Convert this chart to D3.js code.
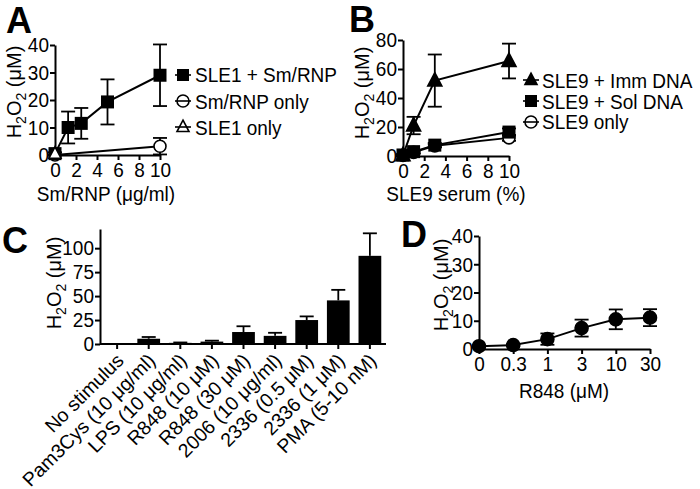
<!DOCTYPE html>
<html><head><meta charset="utf-8">
<script src="https://cdn.jsdelivr.net/npm/d3@7"></script>
<style>
body{margin:0;background:#fff}svg{display:block}
svg text.st{transform-box:fill-box;transform-origin:center;transform:scaleY(1.1)}
</style>
</head><body>
<svg id="chart" width="700" height="489"></svg>
<script>
// ---------- DATA ----------
// Panel A
const aX = [0, 1.25, 2.5, 5, 10];
const aSle1SmRnp = [0.5, 10, 11.5, 19.3, 29];
const aSle1SmRnpErr = [0.5, 5.8, 5.6, 8.2, 11.2];
const aSmRnpX = [0, 10];
const aSmRnpOnly = [0, 3.2];
const aSmRnpOnlyErr = [0, 3];
const aSle1X = [0];
const aSle1Only = [0.5];
const aSle1OnlyErr = [0];
const aXTicks = [0, 2, 4, 6, 8, 10];
const aYTicks = [0, 10, 20, 30, 40];
const aLegend = ["SLE1 + Sm/RNP", "Sm/RNP only", "SLE1 only"];

// Panel B
const bX = [0, 1, 3, 10];
const bImm = [0.5, 21, 52, 65.5];
const bImmErr = [0.5, 6, 18, 12];
const bSol = [0.7, 3, 7.5, 16.5];
const bSolErr = [0.5, 1, 1.5, 2.5];
const bOnly = [0.3, 2.5, 7, 12.5];
const bOnlyErr = [0.3, 1, 1, 2];
const bXTicks = [0, 2, 4, 6, 8, 10];
const bYTicks = [0, 20, 40, 60, 80];
const bLegend = ["SLE9 + Imm DNA", "SLE9 + Sol DNA", "SLE9 only"];

// Panel C
const cLabels = ["No stimulus", "Pam3Cys (10 μg/ml)", "LPS (10 μg/ml)", "R848 (10 μM)",
  "R848 (30 μM)", "2006 (10 μg/ml)", "2336 (0.5 μM)", "2336 (1 μM)", "PMA (5-10 nM)"];
const cValues = [0.5, 5.5, 1.2, 2.5, 12.5, 8.5, 25, 45.5, 92];
const cErr = [0, 1.8, 0.4, 1, 6, 3.2, 3.8, 11, 23.5];
const cYTicks = [0, 25, 50, 75, 100];

// Panel D
const dLabels = ["0", "0.3", "1", "3", "10", "30"];
const dValues = [1, 1.4, 3.5, 7.4, 10.5, 11.1];
const dErr = [0.3, 0.4, 2, 3, 3.5, 3];
const dYTicks = [0, 10, 20, 30, 40];

// ---------- DRAWING ----------
const FONT = "'Liberation Sans', Arial, Helvetica, sans-serif";
const FS = 19;
const svg = d3.select("#chart");
svg.append("rect").attr("width", 700).attr("height", 489).attr("fill", "#fff");

function styleAxis(g, stretch = true) {
  g.selectAll("path,line").attr("stroke", "#000").attr("stroke-width", 2);
  g.selectAll("text").attr("font-family", FONT).attr("font-size", FS).attr("fill", "#000")
    .classed("st", stretch);
}
function yTitle(x, y) {
  const t = svg.append("text").attr("transform", `translate(${x},${y}) rotate(-90)`)
    .attr("text-anchor", "middle").attr("font-family", FONT).attr("font-size", 20).attr("fill", "#000");
  t.append("tspan").text("H");
  t.append("tspan").attr("dy", 5).attr("font-size", 14).text("2");
  t.append("tspan").attr("dy", -5).text("O");
  t.append("tspan").attr("dy", 5).attr("font-size", 14).text("2");
  t.append("tspan").attr("dy", -5).text(" (μM)");
}
function panelLetter(txt, x, y) {
  svg.append("text").attr("x", x).attr("y", y).text(txt)
    .attr("font-family", FONT).attr("font-weight", "bold").attr("font-size", 36).attr("fill", "#000");
}
function xTitle(txt, x, y) {
  svg.append("text").attr("class", "st").attr("x", x).attr("y", y).attr("text-anchor", "middle").text(txt)
    .attr("font-family", FONT).attr("font-size", FS).attr("fill", "#000");
}
function marker(g, type, cx, cy, s, hollow = "#fff") {
  if (type === "square") {
    g.append("rect").attr("x", cx - s / 2).attr("y", cy - s / 2).attr("width", s).attr("height", s).attr("fill", "#000");
  } else if (type === "circle" || type === "ocircle") {
    g.append("circle").attr("cx", cx).attr("cy", cy).attr("r", s / 2)
      .attr("fill", type === "circle" ? "#000" : hollow).attr("stroke", "#000").attr("stroke-width", 1.6);
  } else if (type === "triangle" || type === "otriangle") {
    const h = s * 0.95;
    g.append("path").attr("d", `M${cx},${cy - h * 0.6}L${cx + s / 2},${cy + h * 0.4}L${cx - s / 2},${cy + h * 0.4}Z`)
      .attr("fill", type === "triangle" ? "#000" : hollow).attr("stroke", "#000").attr("stroke-width", 1.6);
  }
}
function series(g, xs, ys, es, xS, yS, type, s) {
  const line = d3.line().x((d, i) => xS(xs[i])).y(d => yS(d));
  xs.forEach((xv, i) => {
    if (es[i] > 0) {
      const x = xS(xv), y1 = yS(ys[i] + es[i]), y0 = yS(Math.max(0, ys[i] - es[i]));
      g.append("line").attr("x1", x).attr("x2", x).attr("y1", y1).attr("y2", y0).attr("stroke", "#000").attr("stroke-width", 1.8);
      [y1, y0].forEach(yy => g.append("line").attr("x1", x - 7).attr("x2", x + 7).attr("y1", yy).attr("y2", yy)
        .attr("stroke", "#000").attr("stroke-width", 1.8));
    }
  });
  if (xs.length > 1) g.append("path").datum(ys).attr("d", line).attr("fill", "none").attr("stroke", "#000").attr("stroke-width", 2);
  xs.forEach((xv, i) => marker(g, type, xS(xv), yS(ys[i]), s));
}
function legend(x, x0, ys, labels, types) {
  const g = svg.append("g");
  labels.forEach((lab, i) => {
    g.append("line").attr("x1", x - 8).attr("x2", x + 8).attr("y1", ys[i]).attr("y2", ys[i]).attr("stroke", "#000").attr("stroke-width", 1.6);
    marker(g, types[i], x, ys[i], 12, "none");
    g.append("text").attr("class", "st").attr("x", x0).attr("y", ys[i]).attr("dy", "0.36em").text(lab)
      .attr("font-family", FONT).attr("font-size", FS).attr("fill", "#000");
  });
}

// ----- Panel A -----
{
  const x = d3.scaleLinear().domain([0, 10]).range([55, 160]);
  const y = d3.scaleLinear().domain([0, 40]).range([155, 45]);
  const gx = svg.append("g").attr("transform", "translate(0,155)")
    .call(d3.axisBottom(x).tickValues(aXTicks).tickSize(5).tickSizeOuter(0).tickPadding(3));
  styleAxis(gx);
  const gy = svg.append("g").attr("transform", "translate(55,0)")
    .call(d3.axisLeft(y).tickValues(aYTicks).tickSize(5).tickSizeOuter(0).tickPadding(1));
  styleAxis(gy);
  const g = svg.append("g");
  series(g, aSmRnpX, aSmRnpOnly, aSmRnpOnlyErr, x, y, "ocircle", 12);
  series(g, aX, aSle1SmRnp, aSle1SmRnpErr, x, y, "square", 13);
  series(g, aSle1X, aSle1Only, aSle1OnlyErr, x, y, "otriangle", 12);
  yTitle(21, 92);
  xTitle("Sm/RNP (μg/ml)", 106, 200);
  panelLetter("A", 6, 33);
  legend(183, 195, [75, 101, 127], aLegend, ["square", "ocircle", "otriangle"]);
}

// ----- Panel B -----
{
  const x = d3.scaleLinear().domain([0, 10]).range([403, 509]);
  const y = d3.scaleLinear().domain([0, 80]).range([156, 40]);
  const gx = svg.append("g").attr("transform", "translate(0,156)")
    .call(d3.axisBottom(x).tickValues(bXTicks).tickSize(5).tickSizeOuter(0).tickPadding(3));
  styleAxis(gx);
  const gy = svg.append("g").attr("transform", "translate(403,0)")
    .call(d3.axisLeft(y).tickValues(bYTicks).tickSize(5).tickSizeOuter(0).tickPadding(1));
  styleAxis(gy);
  const g = svg.append("g");
  series(g, bX, bOnly, bOnlyErr, x, y, "ocircle", 12);
  series(g, bX, bSol, bSolErr, x, y, "square", 13);
  series(g, bX, bImm, bImmErr, x, y, "triangle", 14);
  yTitle(369, 93);
  xTitle("SLE9 serum (%)", 456, 200);
  panelLetter("B", 349, 32);
  legend(531, 542, [80, 101, 122], bLegend, ["triangle", "square", "ocircle"]);
}

// ----- Panel C -----
{
  const x = d3.scaleBand().domain(cLabels).range([101, 386]).paddingInner(0.28).paddingOuter(0.15);
  const y = d3.scaleLinear().domain([0, 120]).range([344, 229]);
  const g = svg.append("g");
  cLabels.forEach((lab, i) => {
    const bx = x(lab), bw = x.bandwidth(), cx = bx + bw / 2;
    if (cErr[i] > 0) {
      const yt = y(cValues[i] + cErr[i]);
      g.append("line").attr("x1", cx).attr("x2", cx).attr("y1", yt).attr("y2", y(cValues[i])).attr("stroke", "#000").attr("stroke-width", 1.8);
      g.append("line").attr("x1", cx - 7).attr("x2", cx + 7).attr("y1", yt).attr("y2", yt).attr("stroke", "#000").attr("stroke-width", 1.8);
    }
    g.append("rect").attr("x", bx).attr("width", bw).attr("y", y(cValues[i])).attr("height", y(0) - y(cValues[i])).attr("fill", "#000");
  });
  const gx = svg.append("g").attr("transform", "translate(0,344)")
    .call(d3.axisBottom(x).tickSize(5).tickSizeOuter(0));
  styleAxis(gx, false);
  gx.select(".domain").attr("d", "M100,0H386");
  gx.selectAll(".tick text").attr("text-anchor", "end").attr("x", 0).attr("y", 0).attr("dy", "0.35em")
    .attr("font-size", 19.5)
    .attr("transform", "translate(3,13) rotate(-45)");
  const gy = svg.append("g").attr("transform", "translate(100,0)")
    .call(d3.axisLeft(y).tickValues(cYTicks).tickSize(5).tickSizeOuter(0).tickPadding(1));
  styleAxis(gy);
  yTitle(61, 283);
  panelLetter("C", 2, 253);
}

// ----- Panel D -----
{
  const x = d3.scalePoint().domain(dLabels).range([479, 650]);
  const y = d3.scaleLinear().domain([0, 40]).range([349, 236]);
  const gx = svg.append("g").attr("transform", "translate(0,349)")
    .call(d3.axisBottom(x).tickSize(5).tickSizeOuter(0).tickPadding(3));
  styleAxis(gx);
  const gy = svg.append("g").attr("transform", "translate(479,0)")
    .call(d3.axisLeft(y).tickValues(dYTicks).tickSize(5).tickSizeOuter(0).tickPadding(1));
  styleAxis(gy);
  const g = svg.append("g");
  series(g, dLabels, dValues, dErr, x, y, "circle", 13);
  yTitle(448, 285);
  xTitle("R848 (μM)", 564, 397);
  panelLetter("D", 401, 247);
}
</script>
</body></html>
